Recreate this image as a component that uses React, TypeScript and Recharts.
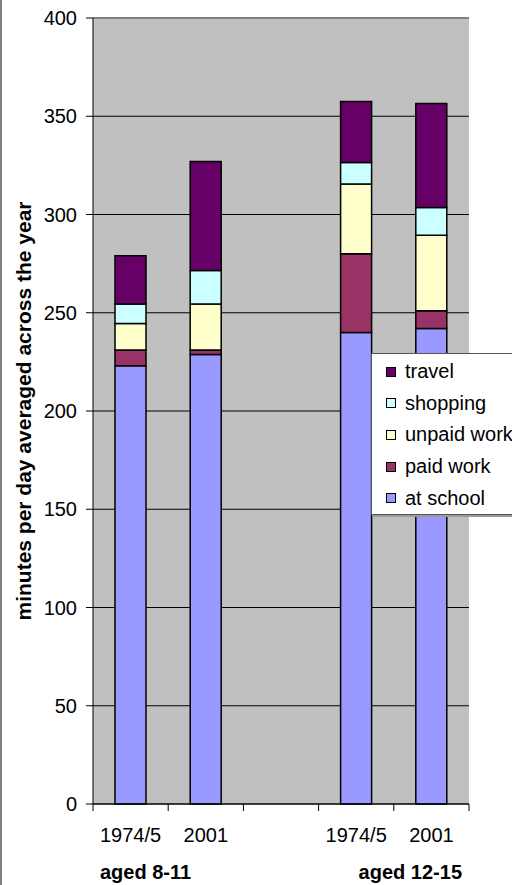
import React from "react";
import {
  BarChart,
  Bar,
  XAxis,
  YAxis,
  CartesianGrid,
  ReferenceLine,
  Legend,
  Label,
} from "recharts";

const categories = ["1974/5", "2001", "", "1974/5", "2001"];
const groupLabels = ["aged 8-11", "", "", "", "aged 12-15"];

const atSchool = [223, 228.7, null, 240, 242];
const paidWork = [8, 2.3, null, 40, 9];
const unpaidWork = [13.5, 23.5, null, 35.5, 38.5];
const shopping = [10, 17, null, 11, 14];
const travel = [24.5, 55.5, null, 31, 53];

const yTicks = [0, 50, 100, 150, 200, 250, 300, 350, 400];
const yTitle = "minutes per day averaged across the year";

const series = [
  { key: "school", name: "at school", color: "#9999FF", values: atSchool },
  { key: "paid", name: "paid work", color: "#993366", values: paidWork },
  { key: "unpaid", name: "unpaid work", color: "#FFFFCC", values: unpaidWork },
  { key: "shopping", name: "shopping", color: "#CCFFFF", values: shopping },
  { key: "travel", name: "travel", color: "#660066", values: travel },
];

const data = categories.map((c, i) => {
  const row: any = { key: "c" + i, label: c };
  series.forEach((s) => {
    row[s.key] = s.values[i];
  });
  return row;
});

const FONT = "'Liberation Sans', Arial, sans-serif";

function XTick(props: any) {
  const { x, y, payload, index } = props;
  const half = payload && typeof payload.offset === "number" && payload.offset > 0 ? payload.offset : 37.6;
  const last = categories.length - 1;
  const group = groupLabels[index];
  const mid = last / 2;
  return (
    <g>
      <line x1={x - half} y1={y - 7} x2={x - half} y2={y} stroke="#000" strokeWidth={1} />
      {index === last && (
        <line x1={x + half} y1={y - 7} x2={x + half} y2={y} stroke="#000" strokeWidth={1} />
      )}
      {categories[index] && (
        <text x={x} y={y + 31} textAnchor="middle" fontSize={20} fontFamily={FONT} fill="#000">
          {categories[index]}
        </text>
      )}
      {group && (
        <text
          x={index < mid ? x - half + 7 : x + half - 7}
          y={y + 68}
          textAnchor={index < mid ? "start" : "end"}
          fontSize={20}
          fontWeight="bold"
          fontFamily={FONT}
          fill="#000"
        >
          {group}
        </text>
      )}
    </g>
  );
}

function YTitle(props: any) {
  const vb = props.viewBox || {};
  const cx = (vb.x || 0) + 31;
  const cy = (vb.y || 0) + (vb.height || 0) / 2;
  return (
    <text
      x={cx}
      y={cy}
      transform={`rotate(-90, ${cx}, ${cy})`}
      textAnchor="middle"
      fontSize={21}
      fontWeight="bold"
      fontFamily={FONT}
      fill="#000"
    >
      {yTitle}
    </text>
  );
}

function LegendBox() {
  const items = [...series].reverse();
  return (
    <div
      style={{
        width: 160,
        height: 162,
        background: "#fff",
        border: "1px solid #555",
        boxShadow: "1px 2px 0 #999",
        boxSizing: "border-box",
        paddingTop: 2,
        fontFamily: FONT,
      }}
    >
      {items.map((s) => (
        <div
          key={s.key}
          style={{ display: "flex", alignItems: "center", height: 31.6, whiteSpace: "nowrap" }}
        >
          <span
            style={{
              display: "inline-block",
              width: 8,
              height: 8,
              background: s.color,
              border: "1px solid #000",
              marginLeft: 14,
              marginRight: 9,
            }}
          />
          <span style={{ fontSize: 20, color: "#000" }}>{s.name}</span>
        </div>
      ))}
    </div>
  );
}

export default function App() {
  return (
    <div
      style={{
        position: "absolute",
        left: 0,
        top: 0,
        width: 512,
        height: 885,
        overflow: "hidden",
        background: "#fff",
      }}
    >
      <div
        style={{
          position: "absolute",
          left: 0,
          top: 0,
          width: 2,
          height: 885,
          background: "#808080",
        }}
      />
      <BarChart
        width={512}
        height={885}
        data={data}
        margin={{ top: 18, right: 43, bottom: 0, left: 0 }}
        barSize={31}
      >
        <CartesianGrid
          vertical={false}
          horizontalValues={[0, 50, 100, 150, 200, 250, 300, 350]}
          stroke="#000"
          strokeWidth={1}
          fill="#C0C0C0"
          fillOpacity={1}
        />
        <XAxis
          dataKey="key"
          height={81}
          interval={0}
          tickLine={false}
          tickSize={7}
          tickMargin={0}
          axisLine={{ stroke: "#000", strokeWidth: 1 }}
          tick={<XTick />}
        />
        <YAxis
          width={93}
          domain={[0, 400]}
          ticks={yTicks}
          interval={0}
          tickSize={7}
          tickMargin={9}
          axisLine={{ stroke: "#000", strokeWidth: 1 }}
          tickLine={{ stroke: "#000", strokeWidth: 1 }}
          tick={{ fontSize: 20, fill: "#000", fontFamily: FONT }}
        >
          <Label content={<YTitle />} />
        </YAxis>
        <YAxis
          yAxisId="right"
          orientation="right"
          width={0}
          domain={[0, 400]}
          tick={false}
          tickLine={false}
          axisLine={{ stroke: "#808080", strokeWidth: 2 }}
        />
        {series.map((s) => (
          <Bar
            key={s.key}
            dataKey={s.key}
            name={s.name}
            stackId="a"
            fill={s.color}
            stroke="#000"
            strokeWidth={1.5}
            isAnimationActive={false}
          />
        ))}
        <ReferenceLine y={400} stroke="#808080" strokeWidth={2} />
        <Legend
          layout="horizontal"
          align="center"
          verticalAlign="middle"
          content={<LegendBox />}
          wrapperStyle={{ position: "absolute", left: 371, top: 353, width: 160, height: 162 }}
        />
      </BarChart>
    </div>
  );
}
